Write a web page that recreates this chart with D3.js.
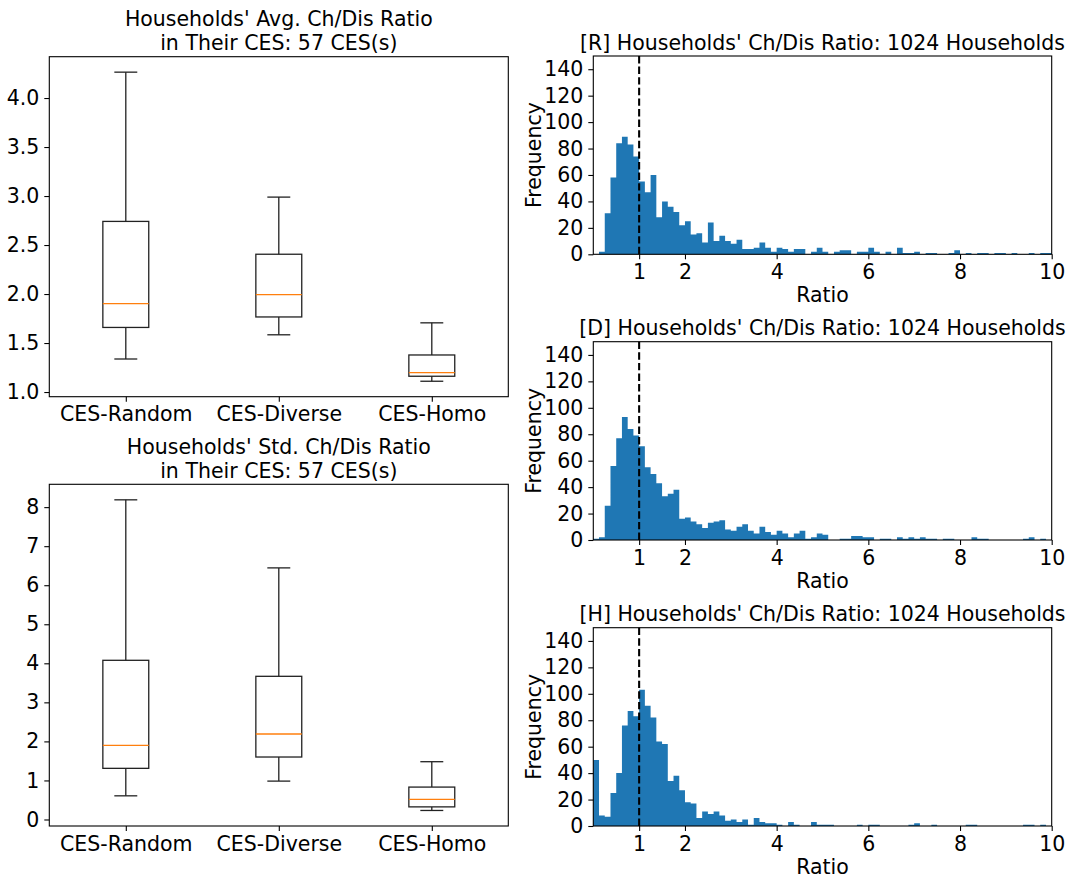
<!DOCTYPE html>
<html>
<head>
<meta charset="utf-8">
<script src="https://cdn.jsdelivr.net/npm/d3@7"></script>
<style>
    body { margin: 0; background: #fff; }
    svg text { font-family: "DejaVu Sans", sans-serif; font-size: 20.5px; fill: #000; }
</style>
</head>
<body>
<div id="fig"></div>
<script>
// ---- data ----
var boxLabels = ["CES-Random", "CES-Diverse", "CES-Homo"];

// avg ratio boxes
var avgLow  = [1.337, 1.584, 1.110];
var avgQ1   = [1.659, 1.766, 1.161];
var avgMed  = [1.902, 1.994, 1.198];
var avgQ3   = [2.741, 2.406, 1.378];
var avgHigh = [4.264, 2.989, 1.706];
var avgTicks = [1.0, 1.5, 2.0, 2.5, 3.0, 3.5, 4.0];

// std ratio boxes
var stdLow  = [0.606, 0.983, 0.231];
var stdQ1   = [1.31, 1.60, 0.323];
var stdMed  = [1.90, 2.19, 0.513];
var stdQ3   = [4.077, 3.667, 0.83];
var stdHigh = [8.187, 6.444, 1.48];
var stdTicks = [0, 1, 2, 3, 4, 5, 6, 7, 8];

// histograms: 80 bins of 0.125 over [0, 10]
var binWidth = 0.125;
var histXTicks = [1, 2, 4, 6, 8, 10];
var histYTicks = [0, 20, 40, 60, 80, 100, 120, 140];

var countsR = [0, 2, 31, 58, 84, 89, 83, 74, 55, 47, 60, 28, 40, 36, 32, 22, 25, 15, 16, 9,
    24, 10, 14, 10, 8, 11, 4, 4, 5, 9, 5, 2, 5, 4, 2, 4, 4, 0, 2, 5,
    2, 0, 2, 3, 3, 0, 2, 2, 5, 2, 0, 2, 0, 5, 1, 1, 2, 0, 1, 1,
    0, 0, 1, 3, 0, 1, 0, 1, 1, 0, 1, 1, 0, 1, 0, 0, 1, 0, 1, 1];
var countsD = [1, 2, 26, 56, 77, 93, 84, 79, 71, 55, 50, 43, 33, 35, 38, 16, 17, 14, 12, 9,
    13, 14, 15, 8, 7, 10, 12, 7, 5, 10, 6, 4, 7, 5, 2, 5, 7, 1, 2, 5,
    4, 0, 0, 1, 1, 3, 3, 2, 2, 0, 1, 1, 0, 2, 1, 2, 1, 2, 1, 1,
    0, 1, 1, 0, 0, 0, 2, 1, 1, 0, 0, 0, 0, 0, 0, 1, 2, 0, 1, 0];
var countsH = [50, 8, 7, 25, 40, 76, 87, 83, 103, 91, 82, 64, 62, 34, 38, 27, 18, 17, 6, 11,
    9, 11, 8, 4, 5, 3, 5, 1, 6, 3, 2, 2, 1, 0, 3, 1, 0, 0, 3, 1,
    1, 1, 0, 0, 0, 0, 1, 0, 1, 1, 0, 0, 0, 0, 0, 1, 2, 0, 0, 1,
    0, 0, 0, 0, 0, 1, 1, 0, 0, 0, 0, 0, 0, 0, 0, 1, 1, 0, 1, 0];

var W = 1072, H = 878;
var LW = 1.1, TICK = 5;

var svg = d3.select("#fig").append("svg")
    .attr("width", W)
    .attr("height", H);

function styleAxis(g) {
    g.select(".domain").remove();
    g.selectAll(".tick line").attr("stroke", "#000").attr("stroke-width", LW);
    g.selectAll(".tick text").style("font-family", "DejaVu Sans").style("font-size", "20.5px").attr("fill", "#000");
}

// ---- Box plot panel ----
BoxPanel = function(_box, _title, _stats, _ticks, _fmt) {
    this.box = _box;
    this.title = _title;
    this.stats = _stats;
    this.ticks = _ticks;
    this.fmt = _fmt;
    this.initVis();
};

BoxPanel.prototype.initVis = function() {
    var vis = this;
    var b = vis.box;

    vis.g = svg.append("g").attr("transform", "translate(" + b.left + "," + b.top + ")");
    vis.width = b.right - b.left;
    vis.height = b.bottom - b.top;

    // matplotlib-style 5% margins around whisker extent
    var lo = d3.min(vis.stats.low), hi = d3.max(vis.stats.high);
    var pad = (hi - lo) * 0.05;
    vis.y = d3.scaleLinear().domain([lo - pad, hi + pad]).range([vis.height, 0]);
    vis.x = d3.scaleLinear().domain([0.5, 3.5]).range([0, vis.width]);

    vis.g.append("g")
        .attr("transform", "translate(0," + vis.height + ")")
        .call(d3.axisBottom(vis.x).tickValues([1, 2, 3]).tickSize(TICK).tickPadding(TICK)
            .tickFormat(function(d) { return boxLabels[d - 1]; }))
        .call(styleAxis);

    vis.g.append("g")
        .call(d3.axisLeft(vis.y).tickValues(vis.ticks).tickSize(TICK).tickPadding(TICK)
            .tickFormat(d3.format(vis.fmt)))
        .call(styleAxis);

    var rows = boxLabels.map(function(name, i) {
        return {pos: i + 1, low: vis.stats.low[i], q1: vis.stats.q1[i], med: vis.stats.med[i],
            q3: vis.stats.q3[i], high: vis.stats.high[i]};
    });

    var bw = 0.3, cw = 0.15;
    var boxes = vis.g.selectAll(".bx").data(rows).enter().append("g").attr("class", "bx");

    // whiskers
    boxes.append("line")
        .attr("x1", function(d) { return vis.x(d.pos); }).attr("x2", function(d) { return vis.x(d.pos); })
        .attr("y1", function(d) { return vis.y(d.q3); }).attr("y2", function(d) { return vis.y(d.high); });
    boxes.append("line")
        .attr("x1", function(d) { return vis.x(d.pos); }).attr("x2", function(d) { return vis.x(d.pos); })
        .attr("y1", function(d) { return vis.y(d.q1); }).attr("y2", function(d) { return vis.y(d.low); });
    // caps
    boxes.append("line")
        .attr("x1", function(d) { return vis.x(d.pos - cw / 2); }).attr("x2", function(d) { return vis.x(d.pos + cw / 2); })
        .attr("y1", function(d) { return vis.y(d.high); }).attr("y2", function(d) { return vis.y(d.high); });
    boxes.append("line")
        .attr("x1", function(d) { return vis.x(d.pos - cw / 2); }).attr("x2", function(d) { return vis.x(d.pos + cw / 2); })
        .attr("y1", function(d) { return vis.y(d.low); }).attr("y2", function(d) { return vis.y(d.low); });
    // box
    boxes.append("rect")
        .attr("x", function(d) { return vis.x(d.pos - bw / 2); })
        .attr("width", function(d) { return vis.x(d.pos + bw / 2) - vis.x(d.pos - bw / 2); })
        .attr("y", function(d) { return vis.y(d.q3); })
        .attr("height", function(d) { return vis.y(d.q1) - vis.y(d.q3); })
        .attr("fill", "none");
    boxes.selectAll("line, rect").attr("stroke", "#222").attr("stroke-width", 1.3);

    // median
    boxes.append("line")
        .attr("x1", function(d) { return vis.x(d.pos - bw / 2); }).attr("x2", function(d) { return vis.x(d.pos + bw / 2); })
        .attr("y1", function(d) { return vis.y(d.med); }).attr("y2", function(d) { return vis.y(d.med); })
        .attr("stroke", "#ff7f0e").attr("stroke-width", 1.3);

    // frame
    vis.g.append("rect")
        .attr("width", vis.width).attr("height", vis.height)
        .attr("fill", "none").attr("stroke", "#000").attr("stroke-width", LW);

    // two line title
    vis.g.append("text").attr("x", vis.width / 2).attr("y", -30.5)
        .attr("text-anchor", "middle").text(vis.title[0]);
    vis.g.append("text").attr("x", vis.width / 2).attr("y", -6.5)
        .attr("text-anchor", "middle").text(vis.title[1]);
};

// ---- Histogram panel ----
HistPanel = function(_box, _title, _counts) {
    this.box = _box;
    this.title = _title;
    this.counts = _counts;
    this.initVis();
};

HistPanel.prototype.initVis = function() {
    var vis = this;
    var b = vis.box;

    vis.g = svg.append("g").attr("transform", "translate(" + b.left + "," + b.top + ")");
    vis.width = b.right - b.left;
    vis.height = b.bottom - b.top;

    vis.x = d3.scaleLinear().domain([0, 10]).range([0, vis.width]);
    vis.y = d3.scaleLinear().domain([0, 150]).range([vis.height, 0]);

    // bin edges with their counts; last edge repeats the last count for the step
    var steps = vis.counts.map(function(c, i) {
        return {x: i * binWidth, n: c};
    });
    steps.push({x: vis.counts.length * binWidth, n: vis.counts[vis.counts.length - 1]});

    var area = d3.area()
        .curve(d3.curveStepAfter)
        .x(function(d) { return vis.x(d.x); })
        .y0(vis.y(0))
        .y1(function(d) { return vis.y(d.n); });

    vis.g.append("path")
        .datum(steps)
        .attr("class", "bars")
        .attr("d", area)
        .attr("fill", "#1f77b4");

    // reference line at ratio = 1
    vis.g.append("line")
        .attr("x1", vis.x(1)).attr("x2", vis.x(1))
        .attr("y1", 0).attr("y2", vis.height)
        .attr("stroke", "#000").attr("stroke-width", 2.08)
        .attr("stroke-dasharray", "7.4,3.2");

    vis.g.append("g")
        .attr("transform", "translate(0," + vis.height + ")")
        .call(d3.axisBottom(vis.x).tickValues(histXTicks).tickSize(TICK).tickPadding(TICK))
        .call(styleAxis);

    vis.g.append("g")
        .call(d3.axisLeft(vis.y).tickValues(histYTicks).tickSize(TICK).tickPadding(TICK))
        .call(styleAxis);

    vis.g.append("rect")
        .attr("width", vis.width).attr("height", vis.height)
        .attr("fill", "none").attr("stroke", "#000").attr("stroke-width", LW);

    vis.g.append("text").attr("x", vis.width / 2).attr("y", -6.5)
        .attr("text-anchor", "middle").text(vis.title);

    vis.g.append("text").attr("x", vis.width / 2).attr("y", vis.height + 48)
        .attr("text-anchor", "middle").text("Ratio");

    vis.g.append("text")
        .attr("transform", "translate(" + (541 - b.left) + "," + (vis.height / 2) + ") rotate(-90)")
        .attr("text-anchor", "middle").text("Frequency");
};

new BoxPanel({left: 49.3, right: 508.3, top: 56.7, bottom: 396.7},
    ["Households' Avg. Ch/Dis Ratio", "in Their CES: 57 CES(s)"],
    {low: avgLow, q1: avgQ1, med: avgMed, q3: avgQ3, high: avgHigh}, avgTicks, ".1f");

new BoxPanel({left: 49.3, right: 508.3, top: 484.3, bottom: 826},
    ["Households' Std. Ch/Dis Ratio", "in Their CES: 57 CES(s)"],
    {low: stdLow, q1: stdQ1, med: stdMed, q3: stdQ3, high: stdHigh}, stdTicks, "d");

new HistPanel({left: 593.3, right: 1051.7, top: 56, bottom: 254.3},
    "[R] Households' Ch/Dis Ratio: 1024 Households", countsR);
new HistPanel({left: 593.3, right: 1051.7, top: 341.7, bottom: 540},
    "[D] Households' Ch/Dis Ratio: 1024 Households", countsD);
new HistPanel({left: 593.3, right: 1051.7, top: 627.7, bottom: 826},
    "[H] Households' Ch/Dis Ratio: 1024 Households", countsH);
</script>
</body>
</html>
